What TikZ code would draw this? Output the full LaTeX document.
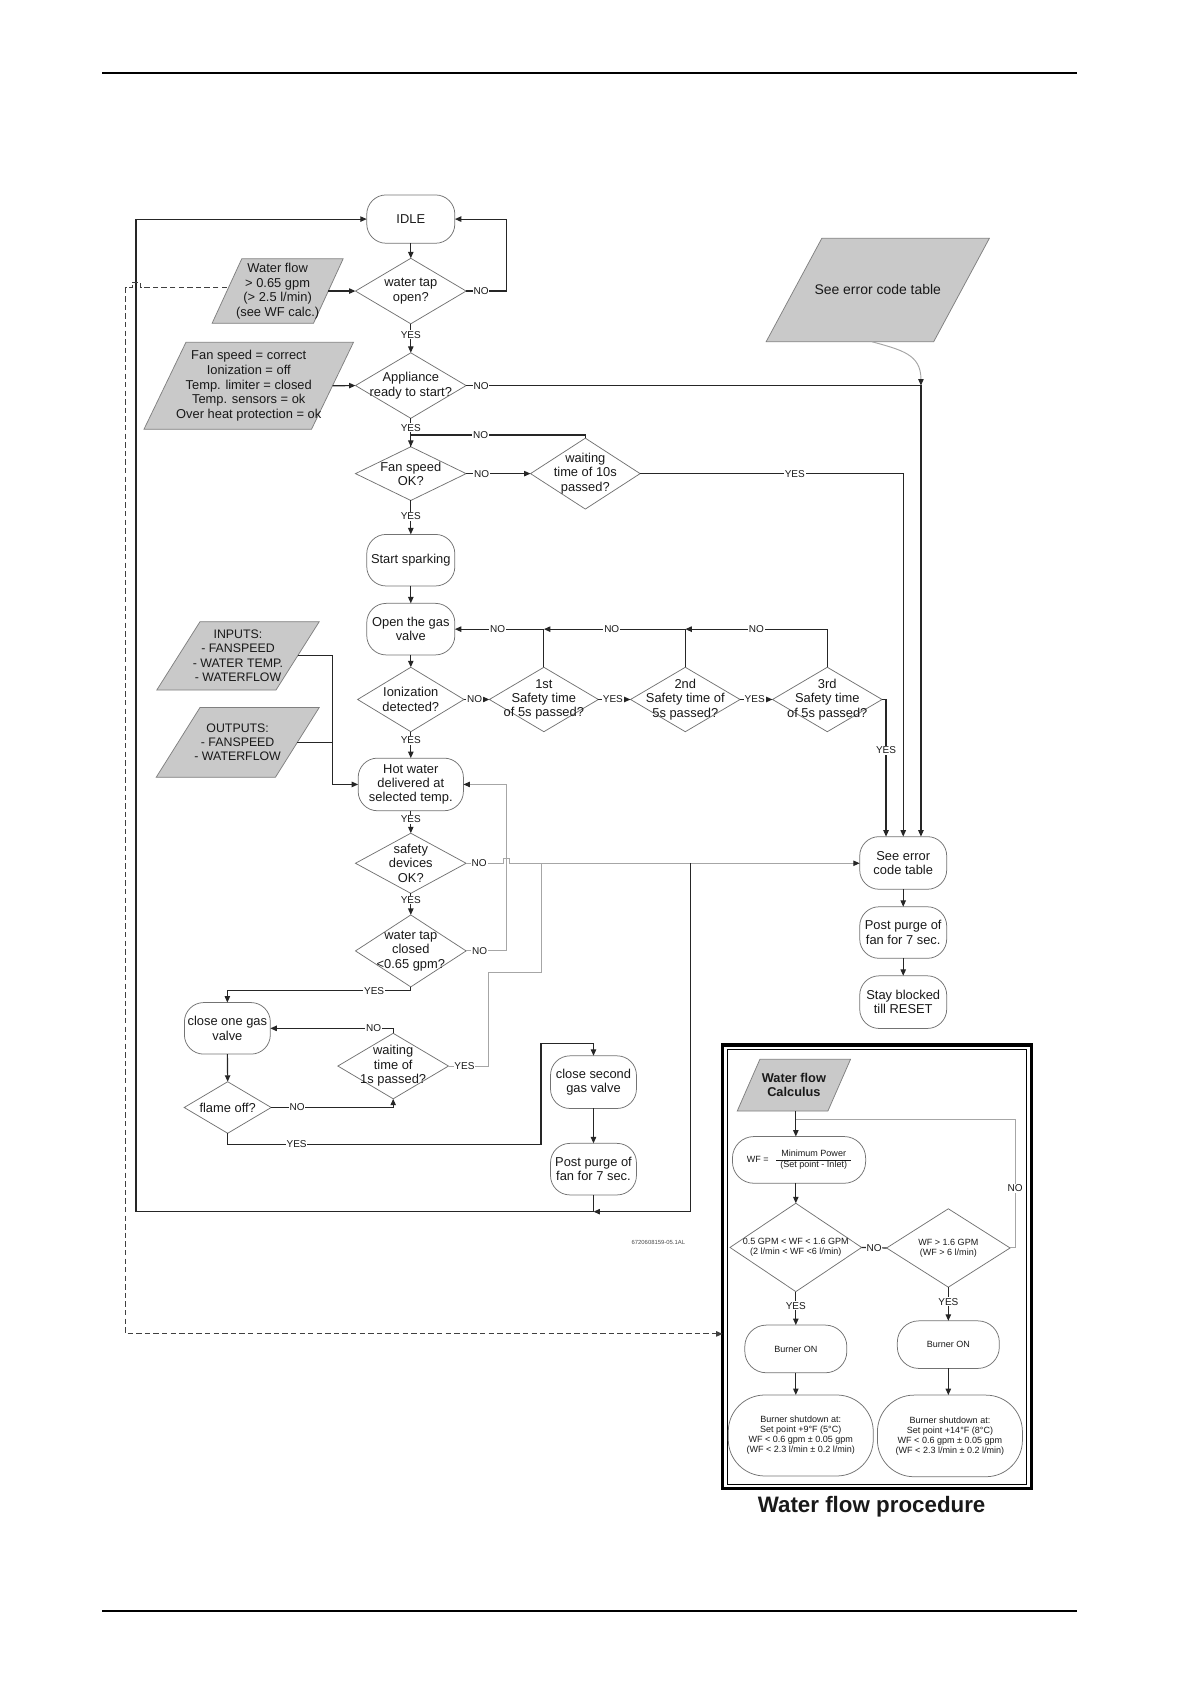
\documentclass[tikz,border=0pt]{standalone}
\usepackage{fontspec}
\setmainfont{Liberation Sans}
\usetikzlibrary{arrows.meta,shapes.geometric,calc}

\newcommand\myPara[8]{%
  \filldraw[pfill] ({#2-#4/2+#6/2},{#3-#5/2}) -- ({#2+#4/2+#6/2},{#3-#5/2}) -- ({#2+#4/2-#6/2},{#3+#5/2}) -- ({#2-#4/2-#6/2},{#3+#5/2}) -- cycle;
  \node[ptxt,#7] (#1) at (#2,#3) {#8};
  \coordinate (#1-e) at ({#2+#4/2},#3);
  \coordinate (#1-w) at ({#2-#4/2},#3);
}
\newcommand\myDia[7]{%
  \node[dshape, minimum width=#4pt, minimum height=#5pt] (#1) at (#2,#3) {};
  \node[dtxt,#6] (#1-t) at (#2,#3) {#7};
}

\begin{document}
\begin{tikzpicture}[x=1pt,y=-1pt,
  every node/.style={text=black!90},
  box/.style={draw=black!55, line width=0.7pt, rectangle, rounded corners=18pt, inner sep=0pt, outer sep=0pt, align=center, font=\fontsize{12}{13.4}\selectfont},
  dshape/.style={draw=black!55, line width=0.7pt, diamond, inner sep=0pt, outer sep=0pt},
  dtxt/.style={inner sep=0pt, align=center, font=\fontsize{12}{13.4}\selectfont},
  ptxt/.style={inner sep=0pt, align=center, font=\fontsize{12}{13.6}\selectfont},
  pfill/.style={fill=black!21, draw=black!50, line width=0.7pt},
  lab/.style={fill=white, inner sep=0.8pt, font=\fontsize{9.3}{10}\selectfont},
  small/.style={font=\fontsize{8.4}{9.4}\selectfont},
  ln/.style={line width=1.1pt, draw=black!85},
  arr/.style={ln, -{Triangle[length=6pt,width=5pt]}},
  gln/.style={line width=0.9pt, draw=black!35},
  garr/.style={gln, -{Triangle[length=6pt,width=5pt,color=black!85]}},
  dsh/.style={line width=1pt, draw=black!75, dash pattern=on 5pt off 3pt, -{Triangle[length=6pt,width=5pt]}}
]
\useasboundingbox (0,0) rectangle (1108,1568);

% page rules
\draw[line width=1pt] (95,68) -- (1003,68);
\draw[line width=1pt] (95,1500) -- (1003,1500);

% parallelograms
\myPara{wflow}{258.5}{271}{94.4}{60}{27.6}{}{Water flow\\> 0.65 gpm\\(> 2.5 l/min)\\(see WF calc.)}
\myPara{fanpar}{231.6}{359.2}{156}{81}{39.1}{}{Fan speed = correct\\Ionization = off\\Temp. limiter = closed\\Temp. sensors = ok\\Over heat protection = ok}
\myPara{errpar}{817.3}{270}{156}{96.2}{51.8}{font=\fontsize{13}{15}\selectfont}{See error code table}
\myPara{inpar}{221.6}{610.7}{111}{63.7}{40.3}{font=\fontsize{11.5}{13.3}\selectfont}{INPUTS:\\- FANSPEED\\- WATER TEMP.\\- WATERFLOW}
\myPara{outpar}{221.3}{691.3}{111}{65}{40.8}{font=\fontsize{11.5}{13.3}\selectfont}{OUTPUTS:\\- FANSPEED\\- WATERFLOW}

% rounded boxes
\node[box, minimum width=82pt, minimum height=45pt] (idle) at (382.5,204) {IDLE};
\node[box, minimum width=82pt, minimum height=48pt] (spark) at (382.5,521.6) {Start sparking};
\node[box, minimum width=82pt, minimum height=48pt] (gasv) at (382.5,585.8) {Open the gas\\valve};
\node[box, minimum width=98pt, minimum height=49pt] (hot) at (382.5,730.4) {Hot water\\delivered at\\selected temp.};
\node[box, minimum width=81pt, minimum height=49pt] (err) at (841,803.5) {See error\\code table};
\node[box, minimum width=81pt, minimum height=48pt] (ppurge1) at (841,868.3) {Post purge of\\fan for 7 sec.};
\node[box, minimum width=81pt, minimum height=49pt] (stay) at (841,933.1) {Stay blocked\\till RESET};
\node[box, minimum width=80pt, minimum height=48pt] (close1) at (211.7,957.5) {close one gas\\valve};
\node[box, minimum width=80pt, minimum height=49pt] (close2) at (552.6,1007.6) {close second\\gas valve};
\node[box, minimum width=80pt, minimum height=48pt] (ppurge2) at (552.6,1088.6) {Post purge of\\fan for 7 sec.};

% diamonds
\myDia{tap}{382.5}{271}{103}{61}{}{water tap\\open?}
\myDia{app}{382.5}{359}{103}{61}{}{Appliance\\ready to start?}
\myDia{fan}{382.5}{441}{103}{50}{}{Fan speed\\OK?}
\myDia{wait10}{545}{441}{102}{66}{}{waiting\\time of 10s\\passed?}
\myDia{ion}{382.5}{651.3}{99}{60}{}{Ionization\\detected?}
\myDia{s1}{506.4}{651.3}{101.5}{60}{}{1st\\Safety time\\of 5s passed?}
\myDia{s2}{638.1}{651.3}{102}{60}{}{2nd\\Safety time of\\5s passed?}
\myDia{s3}{770.3}{651.3}{102}{60}{}{3rd\\Safety time\\of 5s passed?}
\myDia{safe}{382.5}{803.8}{103}{56}{}{safety\\devices\\OK?}
\myDia{tapc}{382.5}{885.4}{103}{67}{}{water tap\\closed\\<0.65 gpm?}
\myDia{wait1}{366.1}{992.6}{103}{61}{}{waiting\\time of\\1s passed?}
\myDia{flame}{212}{1031.2}{81}{48}{}{flame off?}

\node[font=\fontsize{5.5}{6}\selectfont, text=black!70] (code) at (613,1156.7) {6720608159-05.1AL};

% water flow procedure frame
\node[draw, line width=3pt, minimum width=287.7pt, minimum height=412.8pt, inner sep=0pt, outer sep=0pt] (wfframe) at (816.75,1179.4) {};
\node[draw, line width=0.8pt, minimum width=278pt, minimum height=404.8pt, inner sep=0pt, outer sep=0pt] (wfinner) at (816.25,1179.4) {};
\myPara{wfcalc}{739.2}{1010.4}{84.4}{48.2}{21.1}{font=\bfseries\fontsize{11.9}{13.5}\selectfont}{Water flow\\Calculus}
\node[box, small, rounded corners=20pt, minimum width=124pt, minimum height=43.5pt] (wfbox) at (744,1080) {WF =\hspace{7pt}\begin{tabular}{@{\hspace{4pt}}c@{\hspace{4pt}}}Minimum Power\\\hline (Set point - Inlet)\end{tabular}};
\myDia{d1}{741}{1161.5}{122.6}{82.3}{small}{0.5 GPM < WF < 1.6 GPM\\(2 l/min < WF <6 l/min)}
\myDia{d2}{883}{1162}{115}{73}{small}{WF > 1.6 GPM\\(WF > 6 l/min)}
\node[box, small, rounded corners=20pt, minimum width=95pt, minimum height=44.4pt] (bon1) at (741,1256) {Burner ON};
\node[box, small, rounded corners=20pt, minimum width=95pt, minimum height=44.3pt] (bon2) at (883,1252) {Burner ON};
\node[box, small, rounded corners=34pt, minimum width=135pt, minimum height=75.4pt] (sd1) at (745.6,1336.6) {Burner shutdown at:\\Set point +9°F (5°C)\\WF < 0.6 gpm ± 0.05 gpm\\(WF < 2.3 l/min ± 0.2 l/min)};
\node[box, small, rounded corners=34pt, minimum width=135pt, minimum height=76pt] (sd2) at (884.5,1337) {Burner shutdown at:\\Set point +14°F (8°C)\\WF < 0.6 gpm ± 0.05 gpm\\(WF < 2.3 l/min ± 0.2 l/min)};
\node[font=\bfseries\fontsize{20.8}{24}\selectfont] (title) at (811.6,1402.9) {Water flow procedure};

% helper coordinates
\coordinate (errin1) at ([xshift=-16pt]err.north);
\coordinate (errin3) at ([xshift=16.5pt]err.north);
\coordinate (errb) at (811.6,318.1);
\coordinate (errj) at (app.east -| errin3);
\coordinate (j1) at (s1.north |- gasv.east);
\coordinate (j2) at (s2.north |- gasv.east);
\coordinate (bus) at ([xshift=32.8pt]outpar-e);
\coordinate (gv) at (504.1,803.8);
\coordinate (jr) at (642.6,803.8);
\coordinate (jb) at (552.6,1128.2);
\coordinate (jl) at (126.7,1128.2);
\coordinate (fy1) at (503.7,1065.5);
\coordinate (fy2) at (503.7,971.5);
\coordinate (dA) at ([yshift=3pt]wflow-w);
\coordinate (wfa) at (741,1034.5);

% connectors
\draw[arr] (idle.south) -- (tap.north);
\draw[arr] (wflow-e) -- (tap.west);
\draw[arr] (tap.east) -- node[lab,pos=0.375] (l1) {NO} ++(37.3,0) |- (idle.east);
\draw[arr] (tap.south) -- node[lab,pos=0.38] (l2) {YES} (app.north);
\draw[arr] (fanpar-e) -- (app.west);
\draw[arr] (app.east) -| node[lab,pos=0.0165] (l3) {NO} (errin3);
\draw[garr] (errb) .. controls (840,326) and (857.5,330) .. (errj);
\draw[arr] (app.south) -- node[lab,pos=0.33] (l4) {YES} (fan.north);
\draw[ln] (wait10.north) -- ++(0,-3) -| node[lab,pos=0.3] (l5) {NO} (fan.north);
\draw[arr] (fan.east) -- node[lab,pos=0.24] (l6) {NO} (wait10.west);
\draw[arr] (wait10.east) -| node[lab,pos=0.294] (l7) {YES} (err.north);
\draw[arr] (fan.south) -- node[lab,pos=0.47] (l8) {YES} (spark.north);
\draw[arr] (spark.south) -- (gasv.north);
\draw[arr] (gasv.south) -- (ion.north);
\draw[arr] (ion.south) -- node[lab,pos=0.33] (l9) {YES} (hot.north);
\draw[arr] (ion.east) -- node[lab,pos=0.42] (l10) {NO} (s1.west);
\draw[arr] (s1.east) -- node[lab,pos=0.45] (l11) {YES} (s2.west);
\draw[arr] (s2.east) -- node[lab,pos=0.45] (l12) {YES} (s3.west);
\draw[arr] (s3.north) |- node[lab,pos=0.75] (l13) {NO} (j2);
\draw[arr] (s2.north) |- node[lab,pos=0.76] (l14) {NO} (j1);
\draw[arr] (s1.north) |- node[lab,pos=0.76] (l15) {NO} (gasv.east);
\draw[arr] (s3.east) -| node[lab,pos=0.686] (l16) {YES} (errin1);
\draw[ln] (outpar-e) -- (bus);
\draw[arr] (inpar-e) -| (bus) |- (hot.west);
\draw[arr] (hot.south) -- node[lab,pos=0.38] (l17) {YES} (safe.north);
\draw[arr] (safe.south) -- node[lab,pos=0.31] (l18) {YES} (tapc.north);
\draw[garr] (tapc.east) -- node[lab,pos=0.33] (l19) {NO} ++(38,0) |- (hot.east);
\draw[garr] (safe.east) -- node[lab,pos=0.35] (l20) {NO} ++(34.7,0) -- ++(0,-4.6) -- ++(5.9,0) -- ++(0,4.6) -- (safe.east -| err.west);
\draw[gln] (wait1.east) -- node[lab,pos=0.4] (l21) {YES} ++(37.1,0) -- ++(0,-87) -| (gv);
\draw[arr] (jr) |- (jb);
\draw[ln] (ppurge2.south) -- (jb);
\draw[arr] (jb) -- (jl) |- (idle.west);
\draw[arr] (tapc.south) -- ++(0,3.7) -| node[lab,pos=0.1] (l22) {YES} (close1.north);
\draw[arr] (wait1.north) |- node[lab,pos=0.58] (l23) {NO} (close1.east);
\draw[arr] (close1.south) -- (flame.north);
\draw[arr] (flame.east) -| node[lab,pos=0.106] (l24) {NO} (wait1.south);
\draw[arr] (flame.south) |- node[lab,pos=0.61] (l25) {YES} (fy1) -- (fy2) -| (close2.north);
\draw[arr] (close2.south) -- (ppurge2.north);
\draw[arr] (err.south) -- (ppurge1.north);
\draw[arr] (ppurge1.south) -- (stay.north);
\draw[dsh] (dA) -- ++(-80.3,0) -- ++(0,-5) -- ++(-8,0) -- ++(0,5) -- ++(-5.9,0) |- ([yshift=-62.6pt]wfframe.west);

% water flow connectors
\draw[arr] (wfa) -- (wfa |- wfbox.north);
\draw[arr] (d1.north |- wfbox.south) -- (d1.north);
\draw[ln] (d1.east) -- node[lab] (l26) {NO} (d2.west);
\draw[gln] (d2.east) -- ++(4.6,0) -- node[lab,pos=0.466] (l27) {NO} ++(0,-119.2) coordinate (wfn) -- (wfn -| wfa);
\draw[arr] (d1.south) -- node[lab,pos=0.42] (l28) {YES} (bon1.north);
\draw[arr] (d2.south) -- node[lab,pos=0.43] (l29) {YES} (bon2.north);
\draw[arr] (bon1.south) -- (bon1.south |- sd1.north);
\draw[arr] (bon2.south) -- (bon2.south |- sd2.north);
\end{tikzpicture}
\end{document}
